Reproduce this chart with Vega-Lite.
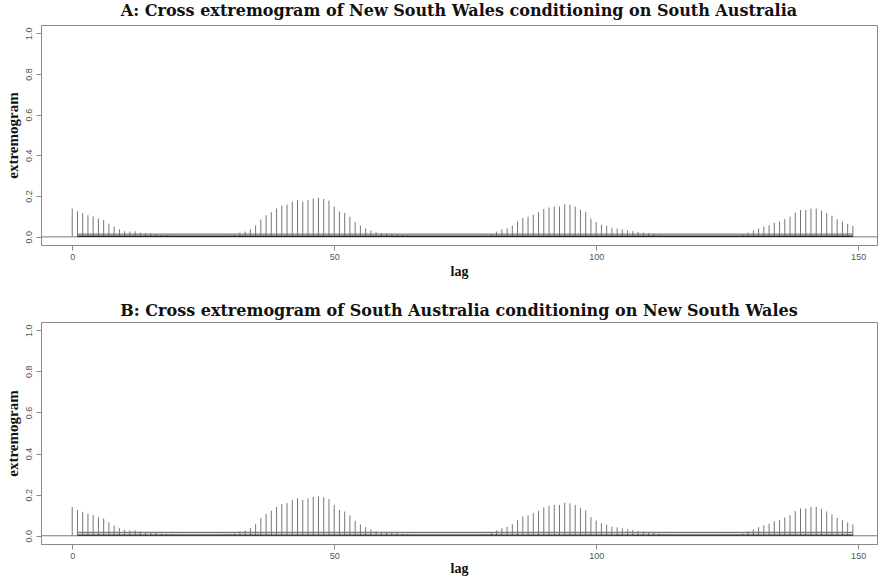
{
  "$schema": "https://vega.github.io/schema/vega-lite/v6.json",
  "background": "white",
  "padding": {"left": 4, "top": 2, "right": 0, "bottom": 0},
  "config": {
    "view": {"stroke": "#8a8a8a", "strokeWidth": 1},
    "axis": {
      "grid": false,
      "domainColor": "#8a8a8a",
      "tickColor": "#8a8a8a",
      "tickSize": 5,
      "labelColor": "#555555",
      "labelFont": "Liberation Sans",
      "labelFontSize": 9,
      "titleFont": "Liberation Serif",
      "titleFontSize": 15,
      "titleFontWeight": "bold",
      "titleColor": "#111111"
    },
    "axisX": {"titleFontSize": 14, "labelPadding": 2},
    "title": {"font": "DejaVu Serif", "fontSize": 16, "fontWeight": "bold", "color": "#111111", "anchor": "middle"},
    "concat": {"spacing": 23}
  },
  "datasets": {
    "nsw_given_sa": [
      {"lag":0,"extremogram":0.139},{"lag":1,"extremogram":0.126},{"lag":2,"extremogram":0.116},{"lag":3,"extremogram":0.106},{"lag":4,"extremogram":0.100},
      {"lag":5,"extremogram":0.090},{"lag":6,"extremogram":0.083},{"lag":7,"extremogram":0.065},{"lag":8,"extremogram":0.050},{"lag":9,"extremogram":0.037},
      {"lag":10,"extremogram":0.028},{"lag":11,"extremogram":0.026},{"lag":12,"extremogram":0.027},{"lag":13,"extremogram":0.021},{"lag":14,"extremogram":0.019},
      {"lag":15,"extremogram":0.016},{"lag":16,"extremogram":0.014},{"lag":17,"extremogram":0.010},{"lag":18,"extremogram":0.008},{"lag":19,"extremogram":0.006},
      {"lag":20,"extremogram":0.004},{"lag":21,"extremogram":0.003},{"lag":22,"extremogram":0.002},{"lag":23,"extremogram":0.002},{"lag":24,"extremogram":0.001},
      {"lag":25,"extremogram":0.002},{"lag":26,"extremogram":0.002},{"lag":27,"extremogram":0.003},{"lag":28,"extremogram":0.004},{"lag":29,"extremogram":0.005},
      {"lag":30,"extremogram":0.006},{"lag":31,"extremogram":0.010},{"lag":32,"extremogram":0.021},{"lag":33,"extremogram":0.026},{"lag":34,"extremogram":0.037},
      {"lag":35,"extremogram":0.055},{"lag":36,"extremogram":0.085},{"lag":37,"extremogram":0.106},{"lag":38,"extremogram":0.121},{"lag":39,"extremogram":0.139},
      {"lag":40,"extremogram":0.153},{"lag":41,"extremogram":0.158},{"lag":42,"extremogram":0.173},{"lag":43,"extremogram":0.181},{"lag":44,"extremogram":0.173},
      {"lag":45,"extremogram":0.181},{"lag":46,"extremogram":0.188},{"lag":47,"extremogram":0.191},{"lag":48,"extremogram":0.186},{"lag":49,"extremogram":0.178},
      {"lag":50,"extremogram":0.149},{"lag":51,"extremogram":0.124},{"lag":52,"extremogram":0.117},{"lag":53,"extremogram":0.099},{"lag":54,"extremogram":0.073},
      {"lag":55,"extremogram":0.055},{"lag":56,"extremogram":0.042},{"lag":57,"extremogram":0.031},{"lag":58,"extremogram":0.023},{"lag":59,"extremogram":0.019},
      {"lag":60,"extremogram":0.018},{"lag":61,"extremogram":0.016},{"lag":62,"extremogram":0.013},{"lag":63,"extremogram":0.010},{"lag":64,"extremogram":0.006},
      {"lag":65,"extremogram":0.004},{"lag":66,"extremogram":0.003},{"lag":67,"extremogram":0.002},{"lag":68,"extremogram":0.002},{"lag":69,"extremogram":0.002},
      {"lag":70,"extremogram":0.001},{"lag":71,"extremogram":0.002},{"lag":72,"extremogram":0.002},{"lag":73,"extremogram":0.002},{"lag":74,"extremogram":0.002},
      {"lag":75,"extremogram":0.002},{"lag":76,"extremogram":0.003},{"lag":77,"extremogram":0.003},{"lag":78,"extremogram":0.004},{"lag":79,"extremogram":0.005},
      {"lag":80,"extremogram":0.013},{"lag":81,"extremogram":0.026},{"lag":82,"extremogram":0.037},{"lag":83,"extremogram":0.042},{"lag":84,"extremogram":0.055},
      {"lag":85,"extremogram":0.075},{"lag":86,"extremogram":0.093},{"lag":87,"extremogram":0.099},{"lag":88,"extremogram":0.109},{"lag":89,"extremogram":0.121},
      {"lag":90,"extremogram":0.137},{"lag":91,"extremogram":0.144},{"lag":92,"extremogram":0.149},{"lag":93,"extremogram":0.149},{"lag":94,"extremogram":0.160},
      {"lag":95,"extremogram":0.157},{"lag":96,"extremogram":0.149},{"lag":97,"extremogram":0.134},{"lag":98,"extremogram":0.122},{"lag":99,"extremogram":0.090},
      {"lag":100,"extremogram":0.073},{"lag":101,"extremogram":0.060},{"lag":102,"extremogram":0.054},{"lag":103,"extremogram":0.044},{"lag":104,"extremogram":0.041},
      {"lag":105,"extremogram":0.036},{"lag":106,"extremogram":0.032},{"lag":107,"extremogram":0.028},{"lag":108,"extremogram":0.024},{"lag":109,"extremogram":0.021},
      {"lag":110,"extremogram":0.019},{"lag":111,"extremogram":0.015},{"lag":112,"extremogram":0.008},{"lag":113,"extremogram":0.005},{"lag":114,"extremogram":0.004},
      {"lag":115,"extremogram":0.003},{"lag":116,"extremogram":0.002},{"lag":117,"extremogram":0.002},{"lag":118,"extremogram":0.002},{"lag":119,"extremogram":0.001},
      {"lag":120,"extremogram":0.002},{"lag":121,"extremogram":0.002},{"lag":122,"extremogram":0.002},{"lag":123,"extremogram":0.002},{"lag":124,"extremogram":0.003},
      {"lag":125,"extremogram":0.003},{"lag":126,"extremogram":0.004},{"lag":127,"extremogram":0.005},{"lag":128,"extremogram":0.011},{"lag":129,"extremogram":0.021},
      {"lag":130,"extremogram":0.031},{"lag":131,"extremogram":0.041},{"lag":132,"extremogram":0.050},{"lag":133,"extremogram":0.057},{"lag":134,"extremogram":0.069},
      {"lag":135,"extremogram":0.075},{"lag":136,"extremogram":0.088},{"lag":137,"extremogram":0.099},{"lag":138,"extremogram":0.119},{"lag":139,"extremogram":0.132},
      {"lag":140,"extremogram":0.132},{"lag":141,"extremogram":0.139},{"lag":142,"extremogram":0.140},{"lag":143,"extremogram":0.129},{"lag":144,"extremogram":0.117},
      {"lag":145,"extremogram":0.103},{"lag":146,"extremogram":0.086},{"lag":147,"extremogram":0.075},{"lag":148,"extremogram":0.064},{"lag":149,"extremogram":0.054}
    ],
    "sa_given_nsw": [
      {"lag":0,"extremogram":0.140},{"lag":1,"extremogram":0.126},{"lag":2,"extremogram":0.117},{"lag":3,"extremogram":0.107},{"lag":4,"extremogram":0.100},
      {"lag":5,"extremogram":0.091},{"lag":6,"extremogram":0.084},{"lag":7,"extremogram":0.066},{"lag":8,"extremogram":0.050},{"lag":9,"extremogram":0.037},
      {"lag":10,"extremogram":0.028},{"lag":11,"extremogram":0.026},{"lag":12,"extremogram":0.027},{"lag":13,"extremogram":0.021},{"lag":14,"extremogram":0.019},
      {"lag":15,"extremogram":0.016},{"lag":16,"extremogram":0.014},{"lag":17,"extremogram":0.010},{"lag":18,"extremogram":0.008},{"lag":19,"extremogram":0.006},
      {"lag":20,"extremogram":0.004},{"lag":21,"extremogram":0.003},{"lag":22,"extremogram":0.002},{"lag":23,"extremogram":0.002},{"lag":24,"extremogram":0.001},
      {"lag":25,"extremogram":0.002},{"lag":26,"extremogram":0.002},{"lag":27,"extremogram":0.003},{"lag":28,"extremogram":0.004},{"lag":29,"extremogram":0.005},
      {"lag":30,"extremogram":0.006},{"lag":31,"extremogram":0.010},{"lag":32,"extremogram":0.021},{"lag":33,"extremogram":0.026},{"lag":34,"extremogram":0.038},
      {"lag":35,"extremogram":0.056},{"lag":36,"extremogram":0.086},{"lag":37,"extremogram":0.107},{"lag":38,"extremogram":0.122},{"lag":39,"extremogram":0.140},
      {"lag":40,"extremogram":0.154},{"lag":41,"extremogram":0.159},{"lag":42,"extremogram":0.174},{"lag":43,"extremogram":0.182},{"lag":44,"extremogram":0.174},
      {"lag":45,"extremogram":0.182},{"lag":46,"extremogram":0.189},{"lag":47,"extremogram":0.192},{"lag":48,"extremogram":0.187},{"lag":49,"extremogram":0.179},
      {"lag":50,"extremogram":0.150},{"lag":51,"extremogram":0.125},{"lag":52,"extremogram":0.118},{"lag":53,"extremogram":0.099},{"lag":54,"extremogram":0.073},
      {"lag":55,"extremogram":0.055},{"lag":56,"extremogram":0.042},{"lag":57,"extremogram":0.031},{"lag":58,"extremogram":0.023},{"lag":59,"extremogram":0.019},
      {"lag":60,"extremogram":0.018},{"lag":61,"extremogram":0.016},{"lag":62,"extremogram":0.013},{"lag":63,"extremogram":0.010},{"lag":64,"extremogram":0.006},
      {"lag":65,"extremogram":0.004},{"lag":66,"extremogram":0.003},{"lag":67,"extremogram":0.002},{"lag":68,"extremogram":0.002},{"lag":69,"extremogram":0.002},
      {"lag":70,"extremogram":0.001},{"lag":71,"extremogram":0.002},{"lag":72,"extremogram":0.002},{"lag":73,"extremogram":0.002},{"lag":74,"extremogram":0.002},
      {"lag":75,"extremogram":0.002},{"lag":76,"extremogram":0.003},{"lag":77,"extremogram":0.003},{"lag":78,"extremogram":0.004},{"lag":79,"extremogram":0.005},
      {"lag":80,"extremogram":0.013},{"lag":81,"extremogram":0.026},{"lag":82,"extremogram":0.037},{"lag":83,"extremogram":0.043},{"lag":84,"extremogram":0.056},
      {"lag":85,"extremogram":0.076},{"lag":86,"extremogram":0.094},{"lag":87,"extremogram":0.099},{"lag":88,"extremogram":0.110},{"lag":89,"extremogram":0.122},
      {"lag":90,"extremogram":0.138},{"lag":91,"extremogram":0.145},{"lag":92,"extremogram":0.150},{"lag":93,"extremogram":0.150},{"lag":94,"extremogram":0.161},
      {"lag":95,"extremogram":0.158},{"lag":96,"extremogram":0.150},{"lag":97,"extremogram":0.135},{"lag":98,"extremogram":0.123},{"lag":99,"extremogram":0.091},
      {"lag":100,"extremogram":0.074},{"lag":101,"extremogram":0.061},{"lag":102,"extremogram":0.054},{"lag":103,"extremogram":0.044},{"lag":104,"extremogram":0.041},
      {"lag":105,"extremogram":0.036},{"lag":106,"extremogram":0.032},{"lag":107,"extremogram":0.028},{"lag":108,"extremogram":0.024},{"lag":109,"extremogram":0.021},
      {"lag":110,"extremogram":0.019},{"lag":111,"extremogram":0.015},{"lag":112,"extremogram":0.008},{"lag":113,"extremogram":0.005},{"lag":114,"extremogram":0.004},
      {"lag":115,"extremogram":0.003},{"lag":116,"extremogram":0.002},{"lag":117,"extremogram":0.002},{"lag":118,"extremogram":0.002},{"lag":119,"extremogram":0.001},
      {"lag":120,"extremogram":0.002},{"lag":121,"extremogram":0.002},{"lag":122,"extremogram":0.002},{"lag":123,"extremogram":0.002},{"lag":124,"extremogram":0.003},
      {"lag":125,"extremogram":0.003},{"lag":126,"extremogram":0.004},{"lag":127,"extremogram":0.005},{"lag":128,"extremogram":0.011},{"lag":129,"extremogram":0.021},
      {"lag":130,"extremogram":0.031},{"lag":131,"extremogram":0.042},{"lag":132,"extremogram":0.051},{"lag":133,"extremogram":0.058},{"lag":134,"extremogram":0.070},
      {"lag":135,"extremogram":0.076},{"lag":136,"extremogram":0.089},{"lag":137,"extremogram":0.100},{"lag":138,"extremogram":0.120},{"lag":139,"extremogram":0.133},
      {"lag":140,"extremogram":0.133},{"lag":141,"extremogram":0.140},{"lag":142,"extremogram":0.141},{"lag":143,"extremogram":0.130},{"lag":144,"extremogram":0.118},
      {"lag":145,"extremogram":0.104},{"lag":146,"extremogram":0.087},{"lag":147,"extremogram":0.076},{"lag":148,"extremogram":0.065},{"lag":149,"extremogram":0.055}
    ],
    "bands_nsw_given_sa": [
      {"bound":"upper","from":1,"to":149,"level":0.013},
      {"bound":"lower","from":1,"to":149,"level":0.003}
    ],
    "bands_sa_given_nsw": [
      {"bound":"upper","from":1,"to":149,"level":0.016},
      {"bound":"lower","from":1,"to":149,"level":0.003}
    ]
  },
  "vconcat": [
    {
      "title": {"text": "A: Cross extremogram of New South Wales conditioning on South Australia", "offset": 6},
      "width": 836,
      "height": 220,
      "layer": [
        {
          "data": {"name": "nsw_given_sa"},
          "mark": {"type": "rule", "color": "#666666", "strokeWidth": 0.9},
          "encoding": {
            "x": {"field": "lag", "type": "quantitative",
                  "scale": {"domain": [-5.96, 153.6], "nice": false, "zero": false},
                  "axis": {"values": [0, 50, 100, 150], "title": "lag", "titlePadding": 3}},
            "y": {"field": "extremogram", "type": "quantitative",
                  "scale": {"domain": [-0.04, 1.04], "nice": false},
                  "axis": {"values": [0, 0.2, 0.4, 0.6, 0.8, 1.0], "format": ".1f", "labelAngle": -90, "labelPadding": 3, "title": "extremogram", "titlePadding": 4}},
            "y2": {"datum": 0}
          }
        },
        {
          "data": {"values": [{}]},
          "mark": {"type": "rule", "color": "#7a7a7a", "strokeWidth": 1},
          "encoding": {"y": {"datum": 0}}
        },
        {
          "data": {"name": "bands_nsw_given_sa"},
          "mark": {"type": "rule", "strokeWidth": 1.3},
          "encoding": {
            "x": {"field": "from", "type": "quantitative"},
            "x2": {"field": "to"},
            "y": {"field": "level", "type": "quantitative"},
            "color": {"field": "bound", "type": "nominal", "scale": {"domain": ["upper", "lower"], "range": ["#7a7a7a", "#222222"]}, "legend": null}
          }
        }
      ]
    },
    {
      "title": {"text": "B: Cross extremogram of South Australia conditioning on New South Wales", "offset": 3},
      "width": 836,
      "height": 222,
      "layer": [
        {
          "data": {"name": "sa_given_nsw"},
          "mark": {"type": "rule", "color": "#666666", "strokeWidth": 0.9},
          "encoding": {
            "x": {"field": "lag", "type": "quantitative",
                  "scale": {"domain": [-5.96, 153.6], "nice": false, "zero": false},
                  "axis": {"values": [0, 50, 100, 150], "title": "lag", "titlePadding": 1}},
            "y": {"field": "extremogram", "type": "quantitative",
                  "scale": {"domain": [-0.04, 1.04], "nice": false},
                  "axis": {"values": [0, 0.2, 0.4, 0.6, 0.8, 1.0], "format": ".1f", "labelAngle": -90, "labelPadding": 3, "title": "extremogram", "titlePadding": 4}},
            "y2": {"datum": 0}
          }
        },
        {
          "data": {"values": [{}]},
          "mark": {"type": "rule", "color": "#7a7a7a", "strokeWidth": 1},
          "encoding": {"y": {"datum": 0}}
        },
        {
          "data": {"name": "bands_sa_given_nsw"},
          "mark": {"type": "rule", "strokeWidth": 1.3},
          "encoding": {
            "x": {"field": "from", "type": "quantitative"},
            "x2": {"field": "to"},
            "y": {"field": "level", "type": "quantitative"},
            "color": {"field": "bound", "type": "nominal", "scale": {"domain": ["upper", "lower"], "range": ["#7a7a7a", "#222222"]}, "legend": null}
          }
        }
      ]
    }
  ]
}
